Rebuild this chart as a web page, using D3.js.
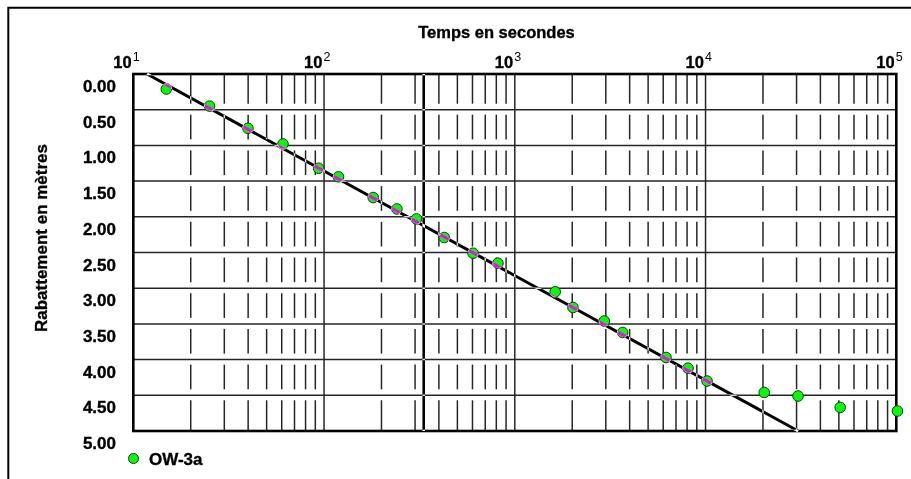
<!DOCTYPE html>
<html>
<head>
<meta charset="utf-8">
<script src="https://cdn.jsdelivr.net/npm/d3@7/dist/d3.min.js"></script>
<style>
  body { margin: 0; background: #fff; }
  svg { display: block; font-family: "Liberation Sans", Arial, sans-serif; }
  .lab { stroke: #000; stroke-width: 0.35; }
</style>
</head>
<body>
<svg id="chart"></svg>
<script>
// observed drawdown, well OW-3a
const times = [14.9, 25.1, 39.9, 60.9, 93.7, 119, 181, 241, 305, 427, 604, 816,
  1629, 2018, 2946, 3675, 6205, 8093, 10180, 20300, 30540, 50800, 101400];
const drawdowns = [0.21, 0.45, 0.76, 0.98, 1.32, 1.44, 1.73, 1.89, 2.03, 2.29, 2.51, 2.65,
  3.05, 3.27, 3.46, 3.62, 3.97, 4.12, 4.30, 4.46, 4.51, 4.67, 4.72];

// straight-line (Jacob) fit
const fitTimes = [11.8, 30600];
const fitDrawdowns = [0, 5];

const markerTime = 333;
const seriesName = "OW-3a";

const yTicks = [0, 0.5, 1, 1.5, 2, 2.5, 3, 3.5, 4, 4.5, 5];
const xDecades = [10, 100, 1000, 10000, 100000];
const xExponents = ["1", "2", "3", "4", "5"];

const dims = { width: 911, height: 479 };
const plot = { left: 133.3, right: 896.3, top: 74, bottom: 431 };
const gridColour = "#262626";

const svg = d3.select("#chart").attr("width", dims.width).attr("height", dims.height);
svg.append("rect").attr("width", dims.width).attr("height", dims.height).attr("fill", "#fff");

const x = d3.scaleLog().domain([10, 100000]).range([plot.left, plot.right]);
const y = d3.scaleLinear().domain([0, 5]).range([plot.top, plot.bottom]);

// outer frame (top and left only visible)
svg.append("path")
  .attr("d", `M8.3,479 V7.7 H911`)
  .attr("fill", "none").attr("stroke", "#000").attr("stroke-width", 2);

// horizontal grid
const grid = svg.append("g");
grid.selectAll(".hgrid")
  .data(yTicks.slice(1, -1))
  .enter().append("line")
  .attr("x1", plot.left).attr("x2", plot.right)
  .attr("y1", (d) => y(d)).attr("y2", (d) => y(d))
  .attr("stroke", gridColour).attr("stroke-width", 1.5);

// major verticals
grid.selectAll(".vmajor")
  .data(xDecades.slice(1, -1))
  .enter().append("line")
  .attr("x1", (d) => x(d)).attr("x2", (d) => x(d))
  .attr("y1", plot.top).attr("y2", plot.bottom)
  .attr("stroke", gridColour).attr("stroke-width", 1.5);

// minor verticals, broken around every horizontal line
const minors = [];
xDecades.slice(0, -1).forEach((d) => {
  for (let k = 2; k <= 9; k++) minors.push(d * k);
});
const rows = yTicks.slice(0, -1).map((v, i) => [v, yTicks[i + 1]]);
const segs = [];
minors.forEach((m) => {
  rows.forEach((r, i) => {
    const y0 = i === 0 ? y(r[0]) : y(r[0]) + 5;
    const y1 = i === rows.length - 1 ? y(r[1]) : y(r[1]) - 6;
    segs.push({ m, y0, y1 });
  });
});
grid.selectAll(".vminor")
  .data(segs)
  .enter().append("line")
  .attr("x1", (d) => x(d.m)).attr("x2", (d) => x(d.m))
  .attr("y1", (d) => d.y0).attr("y2", (d) => d.y1)
  .attr("stroke", gridColour).attr("stroke-width", 1.5);

// plot border
svg.append("rect")
  .attr("x", plot.left).attr("y", plot.top)
  .attr("width", plot.right - plot.left).attr("height", plot.bottom - plot.top)
  .attr("fill", "none").attr("stroke", "#000").attr("stroke-width", 2.6);

// axis titles
svg.append("text")
  .attr("class", "lab")
  .attr("x", 496.5).attr("y", 38)
  .attr("text-anchor", "middle")
  .attr("font-size", 16.5).attr("font-weight", "bold")
  .text("Temps en secondes");

svg.append("text")
  .attr("class", "lab")
  .attr("transform", `translate(47,238) rotate(-90)`)
  .attr("text-anchor", "middle")
  .attr("font-size", 17).attr("font-weight", "bold")
  .text("Rabattement en mètres");

// top decade labels
const xLabels = svg.selectAll(".xlab")
  .data(xDecades)
  .enter().append("text")
  .attr("x", (d) => x(d) - 20).attr("y", 68)
  .attr("font-size", 16.5).attr("font-weight", "bold");
xLabels.append("tspan").attr("class", "lab").text("10");
xLabels.append("tspan")
  .attr("dy", -7).attr("dx", 1)
  .attr("font-size", 12.5).attr("font-weight", "normal")
  .text((d, i) => xExponents[i]);

// y labels (drawn a little below their gridlines, as in the original)
svg.selectAll(".ylab")
  .data(yTicks)
  .enter().append("text")
  .attr("class", "lab")
  .attr("x", 116).attr("y", (d) => y(d) + 18)
  .attr("text-anchor", "end")
  .attr("font-size", 17).attr("font-weight", "bold")
  .text((d) => d.toFixed(2));

// data points
const pts = times.map((t, i) => ({ t, s: drawdowns[i] }));
svg.selectAll(".pt")
  .data(pts)
  .enter().append("circle")
  .attr("cx", (d) => x(d.t)).attr("cy", (d) => y(d.s))
  .attr("r", 5.3)
  .attr("fill", "#00ff00").attr("stroke", "#1c3a1c").attr("stroke-width", 1);

// inverting pen lines (black on white, white on black, magenta on green)
const fit = fitTimes.map((t, i) => ({ t, s: fitDrawdowns[i] }));
svg.append("path")
  .datum(fit)
  .attr("d", d3.line().x((d) => x(d.t)).y((d) => y(d.s)))
  .attr("fill", "none").attr("stroke", "#fff").attr("stroke-width", 3)
  .style("mix-blend-mode", "difference");

svg.append("line")
  .attr("x1", x(markerTime)).attr("x2", x(markerTime))
  .attr("y1", plot.top).attr("y2", plot.bottom)
  .attr("stroke", "#fff").attr("stroke-width", 2.6)
  .style("mix-blend-mode", "difference");

// legend
svg.append("circle")
  .attr("cx", 133.5).attr("cy", 458.5).attr("r", 5)
  .attr("fill", "#00ff00").attr("stroke", "#1c3a1c").attr("stroke-width", 1);
svg.append("text")
  .attr("class", "lab")
  .attr("x", 149).attr("y", 464.5)
  .attr("font-size", 17).attr("font-weight", "bold")
  .text(seriesName);
</script>
</body>
</html>
